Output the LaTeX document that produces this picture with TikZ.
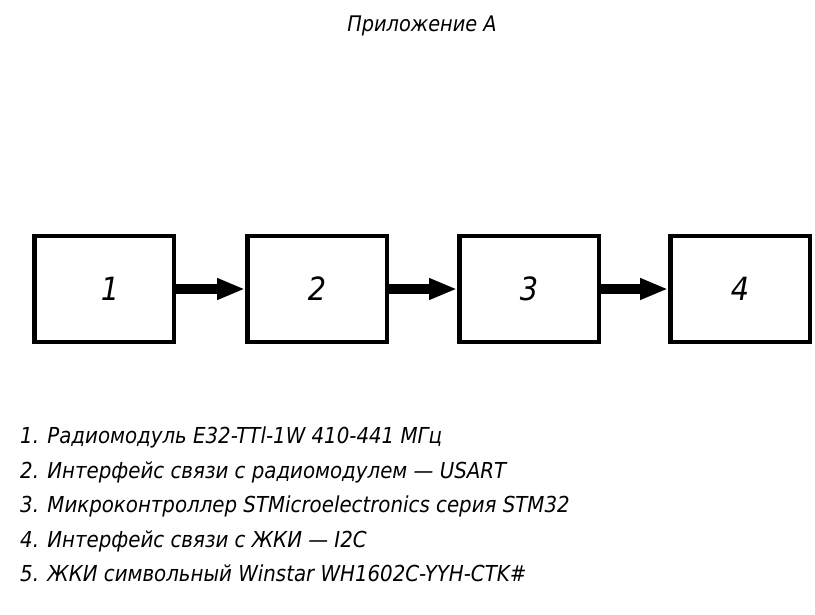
\documentclass[tikz,border=0pt]{standalone}
\usepackage{fontspec}
\setmainfont{DejaVu Sans Condensed}
\usetikzlibrary{arrows.meta}
\usetikzlibrary{positioning}
\tikzset{blok/.style = {draw, line width=4.5pt, minimum width=139.5pt, minimum height=105.5pt,
                        font=\fontsize{32}{38}\selectfont\itshape},
         strelka/.style = {line width=10pt,
                           -{Triangle[length=28pt, width=20pt]}},
         punkt/.style = {anchor=base west, inner sep=0pt,
                         font=\fontsize{22}{26}\selectfont\itshape}}

\begin{document}
\begin{tikzpicture}
      \useasboundingbox [fill=white] (0pt, 0pt) rectangle (815pt, -615pt);

      \node [anchor=base, inner sep=0pt, font=\fontsize{21.5}{26}\selectfont\itshape]
        (titul) at (422pt, -32pt) {Приложение А};

      \node [blok] (b1) at (104pt, -289pt) {\hspace{12pt}1};
      \node [blok, right=69pt of b1] (b2) {2};
      \node [blok, right=68pt of b2] (b3) {3};
      \node [blok, right=67pt of b3] (b4) {4};

      \draw [strelka] (b1) -- (b2);
      \draw [strelka] (b2) -- (b3);
      \draw [strelka] (b3) -- (b4);

      \node [punkt] (p1) at (20pt, -443pt) {1. Радиомодуль E32-TTl-1W 410-441 МГц};
      \node [punkt] (p2) at (20pt, -478pt) {2. Интерфейс связи с радиомодулем — USART};
      \node [punkt] (p3) at (20pt, -512pt) {3. Микроконтроллер STMicroelectronics серия STM32};
      \node [punkt] (p4) at (20pt, -547pt) {4. Интерфейс связи с ЖКИ — I2C};
      \node [punkt] (p5) at (20pt, -581pt) {5. ЖКИ символьный Winstar WH1602C-YYH-CTK\#};

    \end{tikzpicture}
\end{document}
